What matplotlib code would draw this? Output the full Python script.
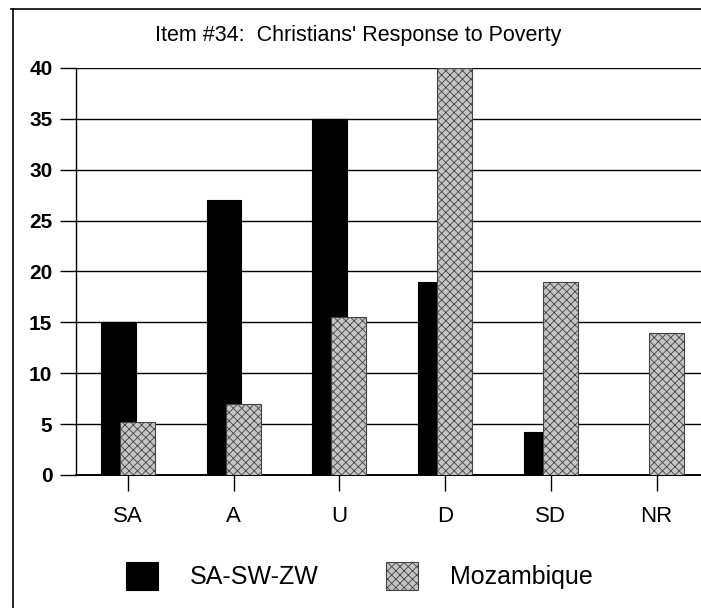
import numpy as np
import matplotlib.pyplot as plt
from matplotlib.lines import Line2D

plt.rcParams['font.family'] = ['Liberation Sans', 'DejaVu Sans']
plt.rcParams['hatch.linewidth'] = 0.6

categories = ['SA', 'A', 'U', 'D', 'SD', 'NR']
sa_sw_zw = [15, 27, 35, 19, 4.2, 0]
mozambique = [5.2, 7, 15.5, 40, 19, 14]

fig = plt.figure(figsize=(7.01, 6.08), dpi=100)
ax = fig.add_axes([0.1084, 0.2188, 0.8916, 0.6694])

x = np.arange(len(categories))
w = 0.33
ax.bar(x - 0.09, sa_sw_zw, w, color='black', edgecolor='black', linewidth=0.8,
       label='SA-SW-ZW', zorder=3)
ax.bar(x + 0.09, mozambique, w, color='#c4c4c4', edgecolor='#444444', hatch='xxxx',
       linewidth=0.8, label='Mozambique', zorder=4)

ax.set_ylim(0, 40)
ax.set_xlim(-0.49, 5.42)
ax.set_yticks(range(0, 41, 5))
ax.set_xticks(x)
ax.set_xticklabels(categories)
ax.yaxis.grid(True, color='black', linewidth=1.0, zorder=0)
ax.set_axisbelow(True)
for s in ['top', 'right']:
    ax.spines[s].set_visible(False)
ax.spines['left'].set_linewidth(1.0)
ax.spines['bottom'].set_linewidth(1.4)
ax.tick_params(axis='y', length=11.5, width=1.0, pad=5.5, labelsize=15)
ax.tick_params(axis='x', length=11.5, width=1.0, pad=10.5, labelsize=16)
for lab in ax.get_yticklabels():
    lab.set_fontweight('bold')

fig.text(0.511, 0.942, "Item #34:  Christians' Response to Poverty", ha='center',
         va='center', fontsize=15.5)

fig.legend(loc='center left', bbox_to_anchor=(0.18, 0.0526), ncol=2, frameon=False,
           fontsize=18, handlelength=1.28, handleheight=1.32, columnspacing=2.68,
           handletextpad=1.28, borderpad=0, borderaxespad=0)

# outer frame of the scanned chart
fig.add_artist(Line2D([0.0185, 0.0185], [0.0, 0.985], color='black', linewidth=1.2))
fig.add_artist(Line2D([0.016, 1.0], [0.985, 0.985], color='black', linewidth=1.2))

fig.savefig('out.png', dpi=100)
